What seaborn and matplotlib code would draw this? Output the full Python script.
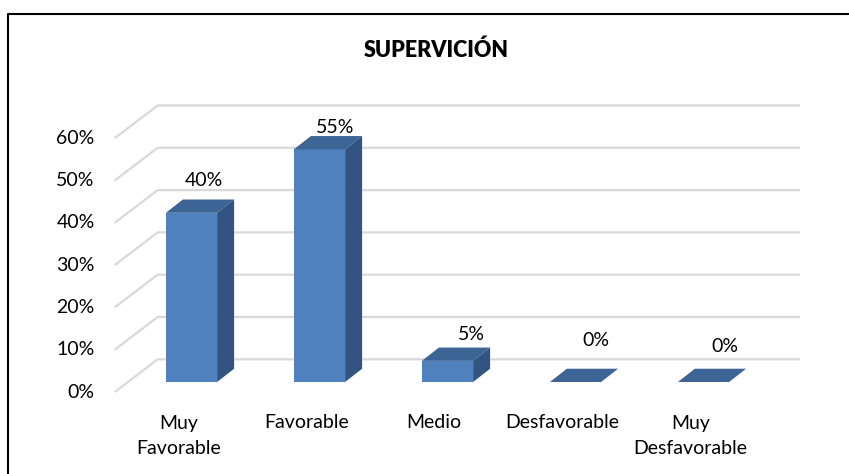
import matplotlib
matplotlib.use("Agg")
import matplotlib.pyplot as plt
import seaborn as sns
import pandas as pd
from matplotlib.patches import Polygon
from matplotlib.lines import Line2D

# ---- data ----
categories = ["Muy\nFavorable", "Favorable", "Medio", "Desfavorable", "Muy\nDesfavorable"]
values = [40, 55, 5, 0, 0]
value_labels = ["40%", "55%", "5%", "0%", "0%"]
y_ticks = [0, 10, 20, 30, 40, 50, 60]
title = "SUPERVICIÓN"

# ---- style / layout ----
W, H = 849, 474
FRONT = "#4f81bd"
TOP = "#3c6494"
SIDE = "#33547e"
GRID = "#d9d9d9"
TXT = "#000000"
FS = 14

PX_X0 = 191.5      # pixel x of first bar's front centre
PX_PER_CAT = 128.0
PY0 = 382.0        # pixel y (from top) of bar front bottom
PX_PER_PCT = 4.23

def dx(px):
    return px / PX_PER_CAT

def dy(px):
    return px / PX_PER_PCT

def ypix(py):
    """data y for a pixel row measured from the top"""
    return (PY0 - py) / PX_PER_PCT

# depth offsets (in pixels)
BAR_DX, BAR_DY = 17.0, 13.3
FRONT_DX, FRONT_DY = -13.2, -10.0
BACK_DY = 22.7
GRID_END_PX = 800.0

# per-label placement offsets (pixels from bar front-top centre)
label_off = [(12.5, 32.7), (15.7, 22.3), (23.7, 26.0), (20.7, 41.7), (21.0, 35.7)]

sns.set_theme(style="white")
plt.rcParams['font.family'] = ['Lato', 'DejaVu Sans']

fig = plt.figure(figsize=(W / 100, H / 100), dpi=100)
ax = fig.add_axes([0, 0, 1, 1])
df = pd.DataFrame({"cat": categories, "val": values})
sns.barplot(data=df, x="cat", y="val", color=FRONT, width=0.4, saturation=1,
            ax=ax, zorder=3, linewidth=0)

ax.set_xlim(-PX_X0 / PX_PER_CAT, (W - PX_X0) / PX_PER_CAT)
ax.set_ylim(ypix(H), ypix(0))
for s in ax.spines.values():
    s.set_visible(False)
ax.set_xticks([])
ax.set_yticks([])
ax.set_xlabel("")
ax.set_ylabel("")
ax.patch.set_alpha(0)

# gridlines (front oblique + back wall)
x_front = dx(114.7 - PX_X0)
x_back0 = dx(157.7 - PX_X0)
x_back1 = dx(GRID_END_PX - PX_X0)
for v in y_ticks:
    yf = v + dy(FRONT_DY)
    yb = v + dy(BACK_DY)
    ax.plot([x_front, x_back0, x_back1], [yf, yb, yb], color=GRID, lw=1.6,
            zorder=1, solid_capstyle="butt")
    ax.text(x_front - dx(20), yf, f"{v}%", ha="right", va="center",
            fontsize=FS, color=TXT)

# 3D top and side faces
for patch, v in zip(ax.patches, values):
    x0 = patch.get_x()
    w = patch.get_width()
    ddx, ddy = dx(BAR_DX), dy(BAR_DY)
    top = Polygon([(x0, v), (x0 + w, v), (x0 + w + ddx, v + ddy), (x0 + ddx, v + ddy)],
                  closed=True, facecolor=TOP, edgecolor="none", zorder=4)
    ax.add_patch(top)
    if v > 0:
        side = Polygon([(x0 + w, 0), (x0 + w + ddx, ddy), (x0 + w + ddx, v + ddy), (x0 + w, v)],
                       closed=True, facecolor=SIDE, edgecolor="none", zorder=4)
        ax.add_patch(side)

# value labels
for i, (v, lab) in enumerate(zip(values, value_labels)):
    ox, oy = label_off[i]
    ax.text(i + dx(ox), v + dy(oy), lab, ha="center", va="center",
            fontsize=FS, color=TXT, zorder=5)

# category labels on the front floor edge
for i, c in enumerate(categories):
    ax.text(i + dx(FRONT_DX), ypix(414.5), c, ha="center", va="top",
            fontsize=FS, color=TXT, linespacing=1.58)

# title
fig.text(436 / W, 1 - 50.5 / H, title, ha="center", va="center",
         fontsize=15.5, fontweight="heavy", color=TXT)

# chart frame (left and top edges visible)
fig.add_artist(Line2D([8 / W, 8 / W, 1.02], [-0.02, 1 - 14 / H, 1 - 14 / H],
                      transform=fig.transFigure, color="black", lw=1.5))

fig.savefig("out.png", dpi=100)
